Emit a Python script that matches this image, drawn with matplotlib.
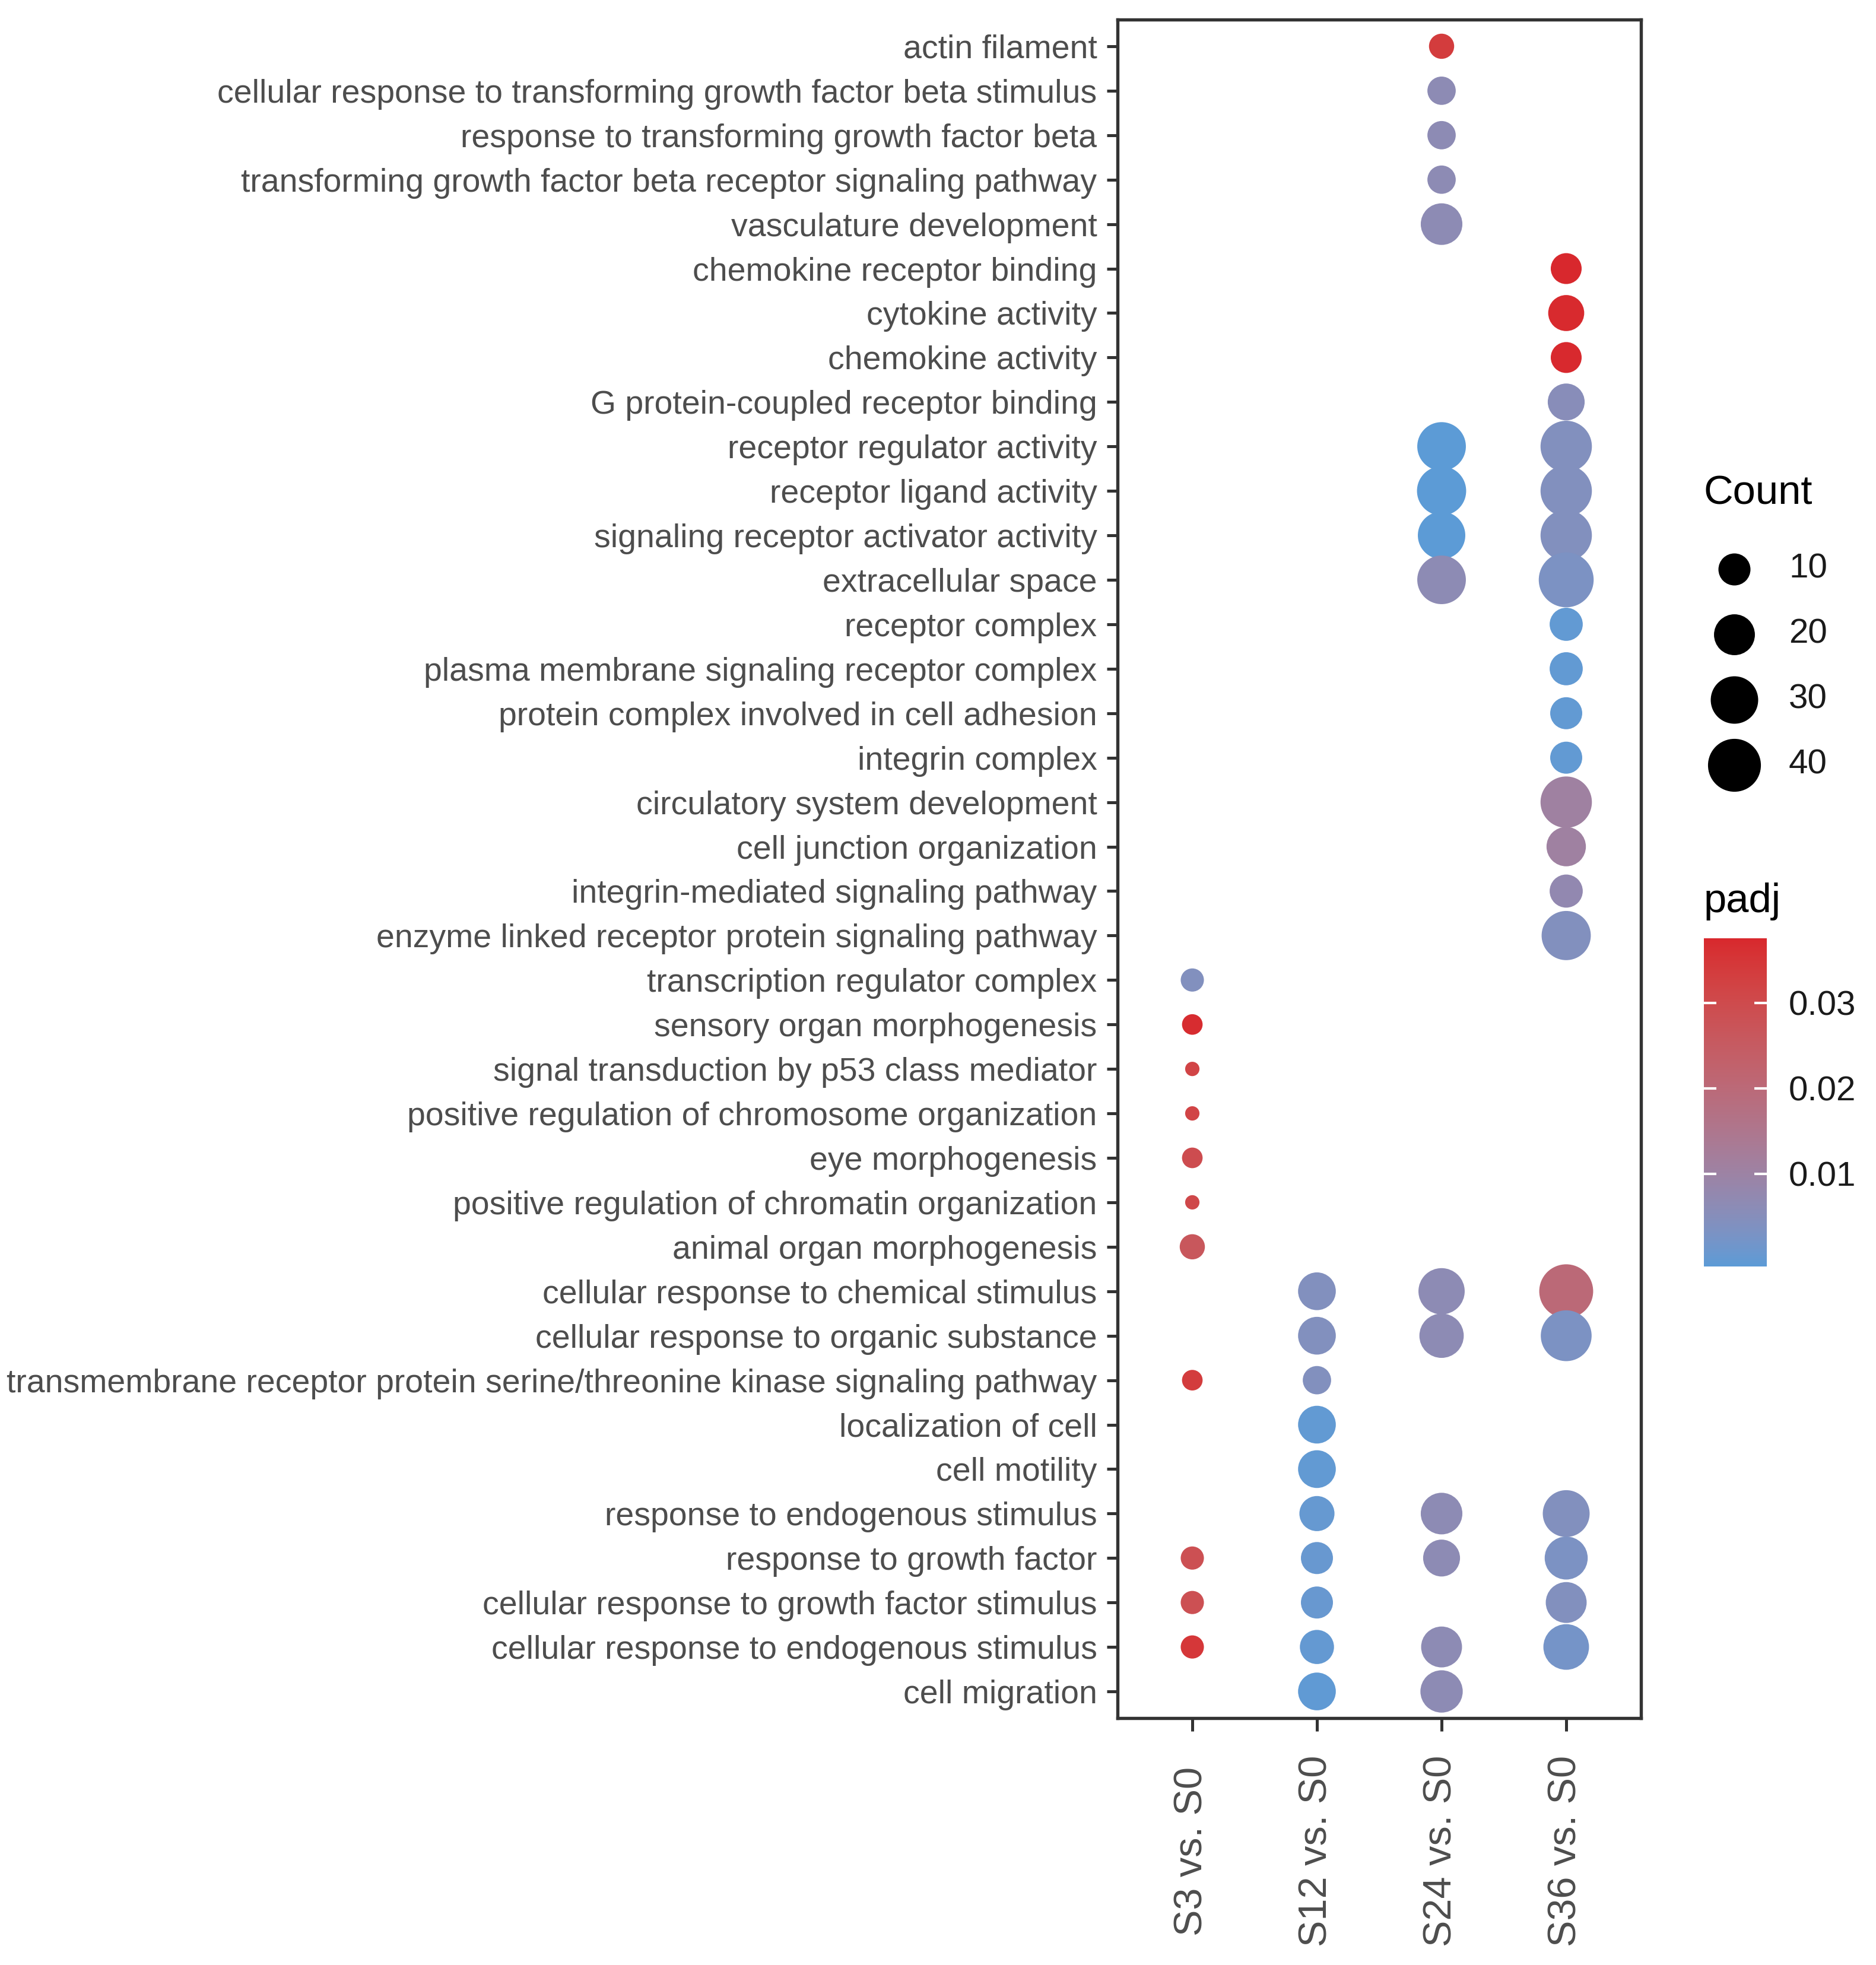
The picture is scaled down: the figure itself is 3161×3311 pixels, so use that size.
import numpy as np
import matplotlib
matplotlib.use('Agg')
import matplotlib.pyplot as plt
from matplotlib.colors import ListedColormap, Normalize, to_rgb

plt.rcParams['font.family'] = ['Liberation Sans', 'DejaVu Sans']

# GO terms, top to bottom as in the figure
terms = [
    'actin filament',
    'cellular response to transforming growth factor beta stimulus',
    'response to transforming growth factor beta',
    'transforming growth factor beta receptor signaling pathway',
    'vasculature development',
    'chemokine receptor binding',
    'cytokine activity',
    'chemokine activity',
    'G protein-coupled receptor binding',
    'receptor regulator activity',
    'receptor ligand activity',
    'signaling receptor activator activity',
    'extracellular space',
    'receptor complex',
    'plasma membrane signaling receptor complex',
    'protein complex involved in cell adhesion',
    'integrin complex',
    'circulatory system development',
    'cell junction organization',
    'integrin-mediated signaling pathway',
    'enzyme linked receptor protein signaling pathway',
    'transcription regulator complex',
    'sensory organ morphogenesis',
    'signal transduction by p53 class mediator',
    'positive regulation of chromosome organization',
    'eye morphogenesis',
    'positive regulation of chromatin organization',
    'animal organ morphogenesis',
    'cellular response to chemical stimulus',
    'cellular response to organic substance',
    'transmembrane receptor protein serine/threonine kinase signaling pathway',
    'localization of cell',
    'cell motility',
    'response to endogenous stimulus',
    'response to growth factor',
    'cellular response to growth factor stimulus',
    'cellular response to endogenous stimulus',
    'cell migration',
]

comparisons = ['S3 vs. S0', 'S12 vs. S0', 'S24 vs. S0', 'S36 vs. S0']

s3_terms = ['transcription regulator complex', 'sensory organ morphogenesis',
            'signal transduction by p53 class mediator',
            'positive regulation of chromosome organization', 'eye morphogenesis',
            'positive regulation of chromatin organization', 'animal organ morphogenesis',
            'transmembrane receptor protein serine/threonine kinase signaling pathway',
            'response to growth factor', 'cellular response to growth factor stimulus',
            'cellular response to endogenous stimulus']
s3_count = [4, 3, 2, 2, 3, 2, 5, 3, 4, 4, 4]
s3_padj = [0.005, 0.036, 0.031, 0.031, 0.029, 0.030, 0.026, 0.033, 0.028, 0.028, 0.034]

s12_terms = ['cellular response to chemical stimulus', 'cellular response to organic substance',
             'transmembrane receptor protein serine/threonine kinase signaling pathway',
             'localization of cell', 'cell motility', 'response to endogenous stimulus',
             'response to growth factor', 'cellular response to growth factor stimulus',
             'cellular response to endogenous stimulus', 'cell migration']
s12_count = [16, 16, 7, 16, 16, 13, 10, 10, 12, 16]
s12_padj = [0.005, 0.005, 0.005, 0.0008, 0.0008, 0.0012, 0.0015, 0.0015, 0.0010, 0.0006]

s24_terms = ['actin filament', 'cellular response to transforming growth factor beta stimulus',
             'response to transforming growth factor beta',
             'transforming growth factor beta receptor signaling pathway',
             'vasculature development', 'receptor regulator activity', 'receptor ligand activity',
             'signaling receptor activator activity', 'extracellular space',
             'cellular response to chemical stimulus', 'cellular response to organic substance',
             'response to endogenous stimulus', 'response to growth factor',
             'cellular response to endogenous stimulus', 'cell migration']
s24_count = [5, 7, 7, 7, 21, 32, 33, 30, 32, 28, 25, 21, 15, 20, 22]
s24_padj = [0.033, 0.007, 0.007, 0.007, 0.007, 0.0001, 0.0001, 0.0001, 0.007,
            0.007, 0.007, 0.007, 0.007, 0.007, 0.007]

s36_terms = ['chemokine receptor binding', 'cytokine activity', 'chemokine activity',
             'G protein-coupled receptor binding', 'receptor regulator activity',
             'receptor ligand activity', 'signaling receptor activator activity',
             'extracellular space', 'receptor complex',
             'plasma membrane signaling receptor complex',
             'protein complex involved in cell adhesion', 'integrin complex',
             'circulatory system development', 'cell junction organization',
             'integrin-mediated signaling pathway',
             'enzyme linked receptor protein signaling pathway',
             'cellular response to chemical stimulus', 'cellular response to organic substance',
             'response to endogenous stimulus', 'response to growth factor',
             'cellular response to growth factor stimulus',
             'cellular response to endogenous stimulus']
s36_count = [9, 14, 9, 15, 37, 37, 37, 44, 11, 11, 10, 10, 37, 18, 11, 33, 42, 36, 29, 23, 20, 27]
s36_padj = [0.0366, 0.0362, 0.0364, 0.006, 0.005, 0.005, 0.005, 0.004, 0.0008, 0.0008,
            0.0008, 0.0008, 0.011, 0.011, 0.008, 0.005, 0.020, 0.004, 0.005, 0.004,
            0.005, 0.003]

size_breaks = [10, 20, 30, 40]
padj_breaks = [0.01, 0.02, 0.03]

groups = [(s3_terms, s3_count, s3_padj), (s12_terms, s12_count, s12_padj),
          (s24_terms, s24_count, s24_padj), (s36_terms, s36_count, s36_padj)]

M = np.array([[0.4124, 0.3576, 0.1805], [0.2126, 0.7152, 0.0722], [0.0193, 0.1192, 0.9505]])
WHITE = np.array([0.95047, 1.0, 1.08883])


# ggplot style gradient: interpolate low->high in Lab space
def _lab(rgb):
    c = np.asarray(rgb, float)
    lin = np.where(c <= 0.04045, c / 12.92, ((c + 0.055) / 1.055) ** 2.4)
    xyz = M @ lin / WHITE
    f = np.where(xyz > (6 / 29) ** 3, np.cbrt(xyz), xyz / (3 * (6 / 29) ** 2) + 4 / 29)
    return np.array([116 * f[1] - 16, 500 * (f[0] - f[1]), 200 * (f[1] - f[2])])


def _rgb(lab):
    L, a, b = lab
    fy = (L + 16) / 116
    f = np.array([fy + a / 500, fy, fy - b / 200])
    xyz = np.where(f > 6 / 29, f ** 3, 3 * (6 / 29) ** 2 * (f - 4 / 29)) * WHITE
    lin = np.clip(np.linalg.inv(M) @ xyz, 0, 1)
    return np.where(lin <= 0.0031308, 12.92 * lin, 1.055 * lin ** (1 / 2.4) - 0.055)


lo, hi = _lab(to_rgb('#5C9BD6')), _lab(to_rgb('#D8282D'))
cmap = ListedColormap([_rgb(lo + (hi - lo) * t) for t in np.linspace(0, 1, 256)])

all_counts = np.concatenate([g[1] for g in groups])
all_padj = np.concatenate([g[2] for g in groups])
cmin = all_counts.min()
norm = Normalize(vmin=all_padj.min(), vmax=all_padj.max())


def dot_size(c):
    d = 5.8 + 2.53 * np.sqrt(np.asarray(c, float) - cmin)
    return d ** 2


W, H = 3162, 3311
fig = plt.figure(figsize=(W / 300, H / 300), dpi=300)
ax = fig.add_axes([1883 / W, 1 - 2895 / H, (2765 - 1883) / W, (2895 - 33) / H])

ypos = {t: len(terms) - i for i, t in enumerate(terms)}
for i, (tt, cc, pp) in enumerate(groups):
    ax.scatter([i + 1] * len(tt), [ypos[t] for t in tt], s=dot_size(cc), c=pp,
               cmap=cmap, norm=norm, linewidths=0, zorder=3)

ax.set_xlim(0.4, len(comparisons) + 0.6)
ax.set_ylim(0.4, len(terms) + 0.6)
ax.set_xticks(range(1, len(comparisons) + 1))
ax.set_xticklabels(comparisons, rotation=90, va='center', ha='center',
                   fontsize=16, color='#4D4D4D')
ax.set_yticks([ypos[t] for t in terms])
ax.set_yticklabels(terms, fontsize=13.3, color='#4D4D4D')
ax.tick_params(axis='y', length=4.3, width=1.2, color='#333333', pad=4)
ax.tick_params(axis='x', length=5.3, width=1.2, color='#333333', pad=48.5)
for sp in ax.spines.values():
    sp.set_color('#333333')
    sp.set_linewidth(1.3)

# size legend
fig.text(2871 / W, 1 - 832 / H, 'Count', fontsize=16.5, va='center', ha='left')
lax = fig.add_axes([2871 / W, 1 - 1344 / H, 289 / W, 440 / H])
lax.set_xlim(0, 1)
lax.set_ylim(len(size_breaks) + 0.5, 0.5)
lax.axis('off')
for k, b in enumerate(size_breaks):
    lax.scatter(0.176, k + 1, s=dot_size(b), color='black', linewidths=0)
    lax.text(0.495, k + 1, str(b), fontsize=14, va='center', ha='left', color='#1A1A1A')

# colour legend (bar padded by half a bin at each end, as ggplot does)
fig.text(2871 / W, 1 - 1519 / H, 'padj', fontsize=16.5, va='center', ha='left')
cax = fig.add_axes([2871 / W, 1 - 2134 / H, 106 / W, (2134 - 1581) / H])
half_bin = (norm.vmax - norm.vmin) / 38
bar_norm = Normalize(vmin=norm.vmin - half_bin, vmax=norm.vmax + half_bin)
sm = plt.cm.ScalarMappable(norm=bar_norm, cmap=cmap)
cb = fig.colorbar(sm, cax=cax, ticks=padj_breaks)
cb.outline.set_visible(False)
cax.tick_params(which='both', direction='in', length=5, width=1, color='white',
                left=True, right=True, labelsize=14, labelcolor='#1A1A1A', pad=8.9)
cax.set_yticklabels([f'{v:.2f}' for v in padj_breaks])

fig.savefig('out.png', dpi=300, facecolor='white')
